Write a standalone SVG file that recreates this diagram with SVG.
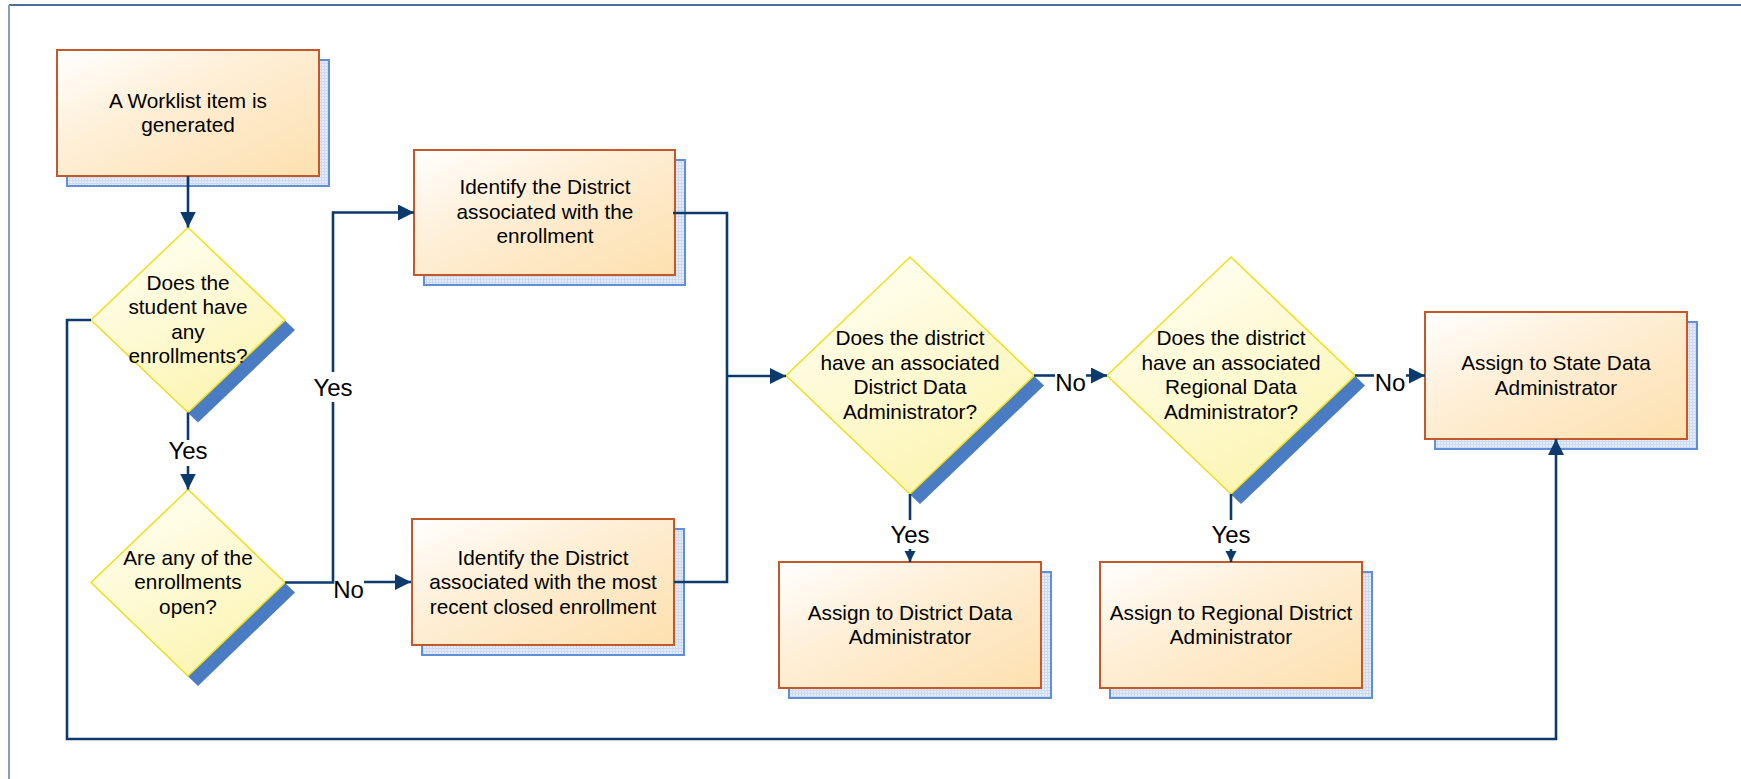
<svg xmlns="http://www.w3.org/2000/svg" width="1741" height="779" viewBox="0 0 1741 779">
<defs>
<linearGradient id="boxGrad" x1="0" y1="0" x2="1" y2="1">
<stop offset="0" stop-color="#FFFFFF"/>
<stop offset="0.4" stop-color="#FEEFD7"/>
<stop offset="1" stop-color="#FDE0AE"/>
</linearGradient>
<linearGradient id="diaGrad" x1="0.2" y1="0" x2="0.7" y2="1">
<stop offset="0" stop-color="#FFFFF4"/>
<stop offset="1" stop-color="#FCF4B0"/>
</linearGradient>
<pattern id="hatch" width="3" height="3" patternUnits="userSpaceOnUse">
<rect width="3" height="3" fill="#E4ECF8"/>
<path d="M0,0.5 H3 M0.5,0 V3" stroke="#CCD9EE" stroke-width="1"/>
</pattern>
<marker id="arr" markerUnits="userSpaceOnUse" markerWidth="17" markerHeight="16" refX="16" refY="8" orient="auto">
<path d="M0,0 L16,8 L0,16 z" fill="#0D3A6C"/>
</marker>
<marker id="arrS" markerUnits="userSpaceOnUse" markerWidth="12" markerHeight="12" refX="11" refY="6" orient="auto">
<path d="M0,0.5 L11,6 L0,11.5 z" fill="#0D3A6C"/>
</marker>
</defs>
<style>
.box{fill:url(#boxGrad);stroke:#C4582B;stroke-width:2}
.shadow{fill:url(#hatch);stroke:#5F8FD6;stroke-width:2}
.dia{fill:url(#diaGrad);stroke:#F0E020;stroke-width:1.6}
.dshadow{fill:#4A7CC4}
.t{font-family:"Liberation Sans",Arial,sans-serif;font-size:20.8px;fill:#000;text-anchor:middle}
.lbl{font-family:"Liberation Sans",Arial,sans-serif;font-size:24px;fill:#000;text-anchor:middle}
.c{fill:none;stroke:#0D3A6C;stroke-width:2.6}
.frame{fill:none;stroke-width:2}
</style>
<rect width="1741" height="779" fill="#FFFFFF"/>
<g id="frame">
<line class="frame" x1="9" y1="5" x2="1741" y2="5" stroke="#4A6F96"/>
<line class="frame" x1="9" y1="5" x2="9" y2="779" stroke="#8A9FB7"/>
</g>
<g id="start">
<rect class="shadow" x="67" y="60" width="262" height="126"/>
<rect class="box" x="57" y="50" width="262" height="126"/>
<text class="t" x="188" y="107.5">A Worklist item is</text>
<text class="t" x="188" y="132">generated</text>
</g>
<g id="q-enrollments">
<polygon class="dshadow" points="198,237.5 295,330 198,422.5 101,330"/>
<polygon class="dia" points="188,227.5 285,320 188,412.5 91,320"/>
<text class="t" x="188" y="289.5">Does the</text>
<text class="t" x="188" y="314">student have</text>
<text class="t" x="188" y="338.5">any</text>
<text class="t" x="188" y="363">enrollments?</text>
</g>
<g id="q-open">
<polygon class="dshadow" points="198,499.5 295,592.5 198,686 101,592.5"/>
<polygon class="dia" points="188,489.5 285,582.5 188,676 91,582.5"/>
<text class="t" x="188" y="564.5">Are any of the</text>
<text class="t" x="188" y="589">enrollments</text>
<text class="t" x="188" y="613.5">open?</text>
</g>
<g id="id-district">
<rect class="shadow" x="424" y="160" width="261" height="125"/>
<rect class="box" x="414" y="150" width="261" height="125"/>
<text class="t" x="545" y="194">Identify the District</text>
<text class="t" x="545" y="218.5">associated with the</text>
<text class="t" x="545" y="243">enrollment</text>
</g>
<g id="id-district-closed">
<rect class="shadow" x="422" y="529" width="262" height="126"/>
<rect class="box" x="412" y="519" width="262" height="126"/>
<text class="t" x="543" y="564.5">Identify the District</text>
<text class="t" x="543" y="589">associated with the most</text>
<text class="t" x="543" y="613.5">recent closed enrollment</text>
</g>
<g id="q-dda">
<polygon class="dshadow" points="920,267 1044,385.5 920,504 796,385.5"/>
<polygon class="dia" points="910,257 1034,375.5 910,494 786,375.5"/>
<text class="t" x="910" y="345">Does the district</text>
<text class="t" x="910" y="369.5">have an associated</text>
<text class="t" x="910" y="394">District Data</text>
<text class="t" x="910" y="418.5">Administrator?</text>
</g>
<g id="q-rda">
<polygon class="dshadow" points="1241,267 1365,385.5 1241,504 1117,385.5"/>
<polygon class="dia" points="1231,257 1355,375.5 1231,494 1107,375.5"/>
<text class="t" x="1231" y="345">Does the district</text>
<text class="t" x="1231" y="369.5">have an associated</text>
<text class="t" x="1231" y="394">Regional Data</text>
<text class="t" x="1231" y="418.5">Administrator?</text>
</g>
<g id="assign-dda">
<rect class="shadow" x="789" y="572" width="262" height="126"/>
<rect class="box" x="779" y="562" width="262" height="126"/>
<text class="t" x="910" y="619.5">Assign to District Data</text>
<text class="t" x="910" y="644">Administrator</text>
</g>
<g id="assign-rda">
<rect class="shadow" x="1110" y="572" width="262" height="126"/>
<rect class="box" x="1100" y="562" width="262" height="126"/>
<text class="t" x="1231" y="619.5">Assign to Regional District</text>
<text class="t" x="1231" y="644">Administrator</text>
</g>
<g id="assign-state">
<rect class="shadow" x="1435" y="322" width="262" height="127"/>
<rect class="box" x="1425" y="312" width="262" height="127"/>
<text class="t" x="1556" y="370">Assign to State Data</text>
<text class="t" x="1556" y="394.5">Administrator</text>
</g>
<g id="connectors">
<path class="c" d="M188,176 V227.5" marker-end="url(#arr)"/>
<path class="c" d="M188,412.5 V440"/>
<path class="c" d="M188,466 V489.5" marker-end="url(#arr)"/>
<path class="c" d="M285,582.5 H333 V402"/>
<path class="c" d="M333,372 V212.5 H414" marker-end="url(#arr)"/>
<path class="c" d="M364,582 H411" marker-end="url(#arr)"/>
<path class="c" d="M673,213 H727 V582 H674"/>
<path class="c" d="M727,376 H786" marker-end="url(#arr)"/>
<path class="c" d="M1034,375.5 H1055"/>
<path class="c" d="M1086,375.5 H1107" marker-end="url(#arr)"/>
<path class="c" d="M1355,375.5 H1374"/>
<path class="c" d="M1406,375.5 H1425" marker-end="url(#arr)"/>
<path class="c" d="M910,494 V520"/>
<path class="c" d="M910,549 V562" marker-end="url(#arrS)"/>
<path class="c" d="M1231,494 V520"/>
<path class="c" d="M1231,549 V562" marker-end="url(#arrS)"/>
<path class="c" d="M91,320 H67 V739 H1556 V439" marker-end="url(#arr)"/>
<text class="lbl" x="188" y="458.5">Yes</text>
<text class="lbl" x="333" y="395.5">Yes</text>
<text class="lbl" x="348.5" y="597.5">No</text>
<text class="lbl" x="1070.5" y="390.5">No</text>
<text class="lbl" x="1390" y="390.5">No</text>
<text class="lbl" x="910" y="542.5">Yes</text>
<text class="lbl" x="1231" y="542.5">Yes</text>
</g>
</svg>
